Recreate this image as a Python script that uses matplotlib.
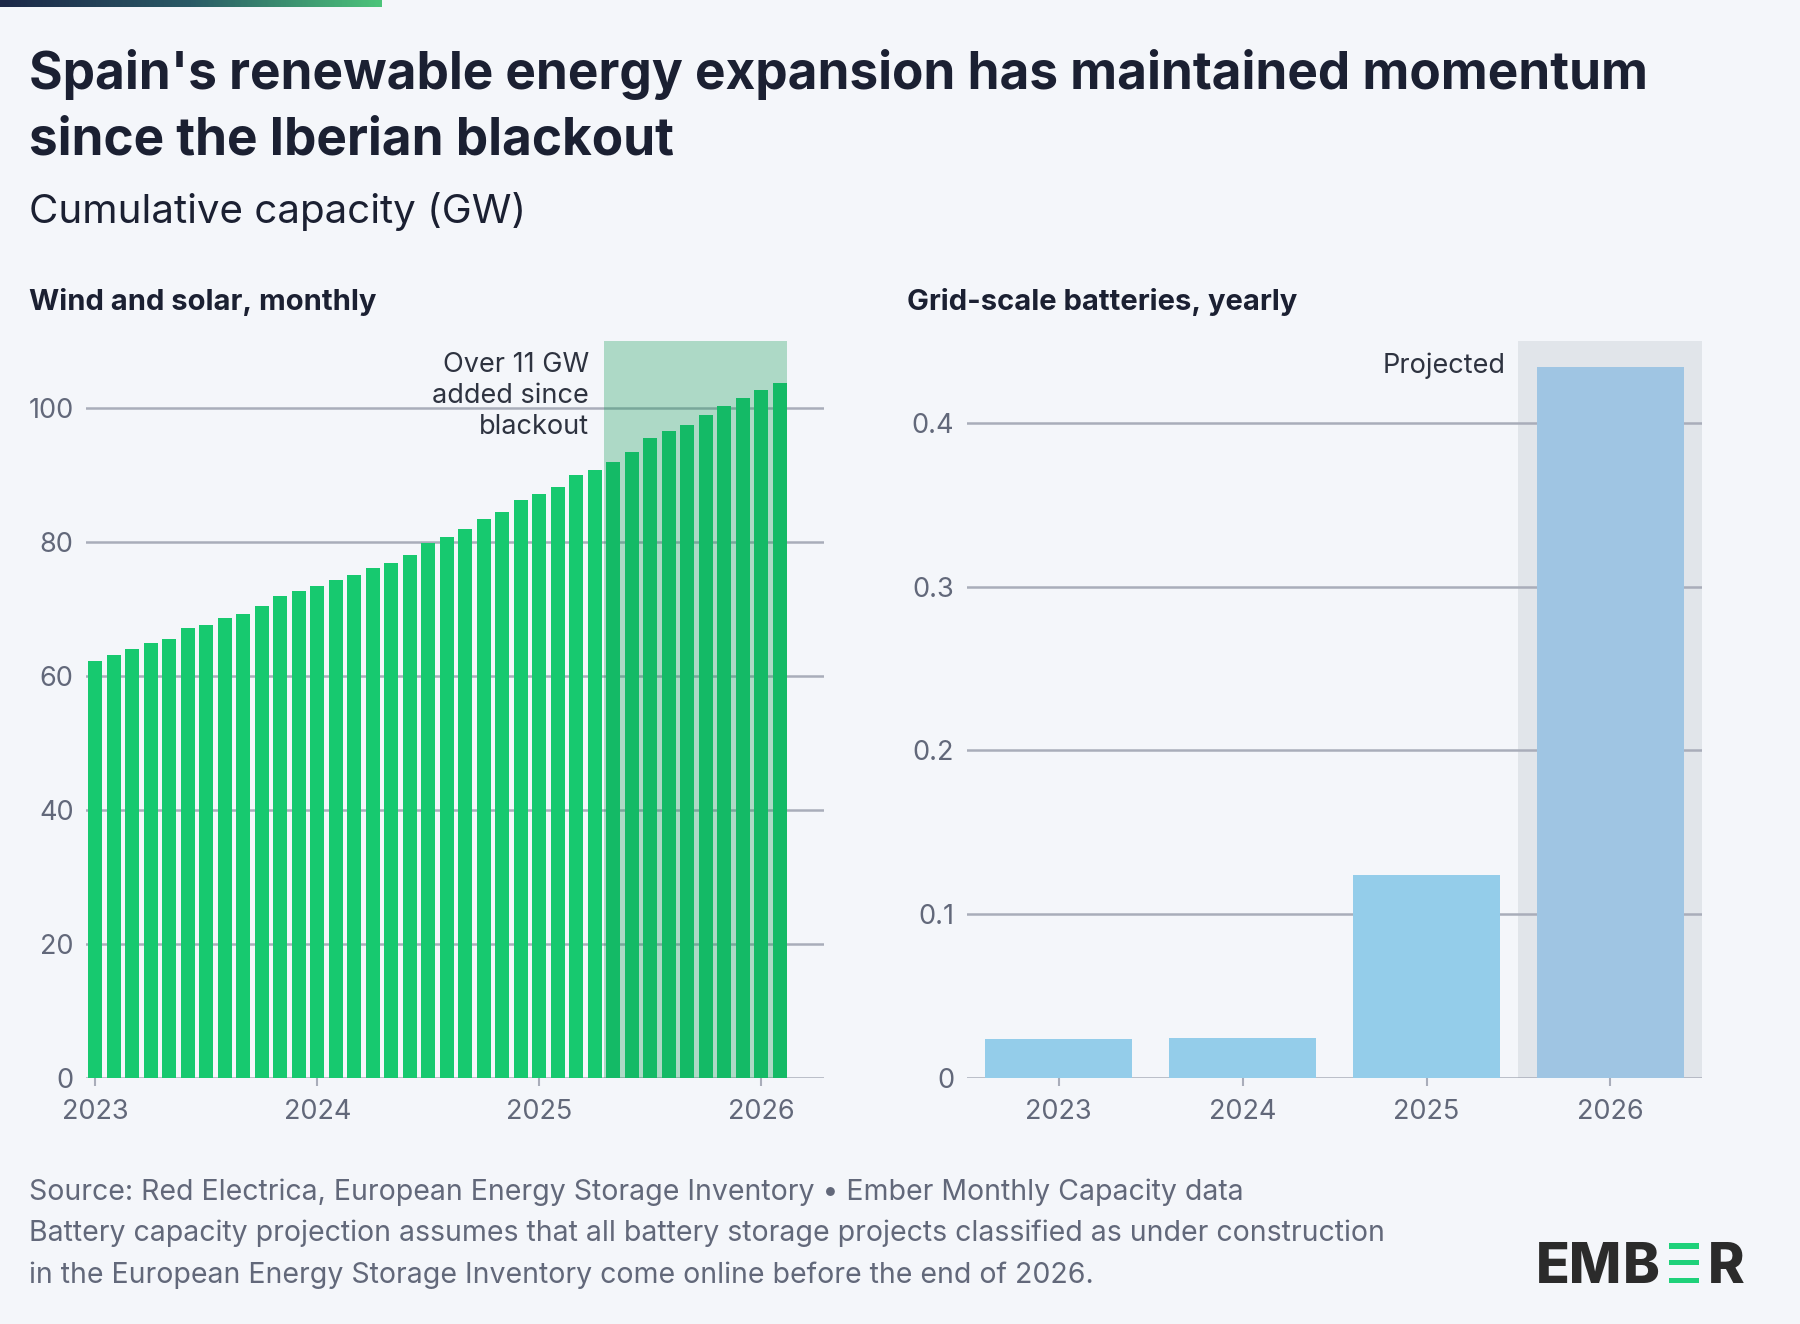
import numpy as np
import pandas as pd
import matplotlib
matplotlib.use("Agg")
import matplotlib.pyplot as plt
from matplotlib.colors import LinearSegmentedColormap

# wind + solar cumulative capacity, GW, Jan 2023 .. Feb 2026
wind_solar = [62.2, 63.1, 64.1, 64.9, 65.6, 67.1, 67.6, 68.6, 69.3, 70.4, 72.0, 72.7,
              73.4, 74.3, 75.1, 76.2, 76.9, 78.0, 79.9, 80.7, 82.0, 83.4, 84.5, 86.3,
              87.2, 88.2, 90.0, 90.7, 92.0, 93.5, 95.6, 96.6, 97.5, 99.0, 100.3, 101.5,
              102.7, 103.8]
months = pd.date_range("2023-01-01", periods=len(wind_solar), freq="MS")
blackout_month = "2025-05"

battery_years = ["2023", "2024", "2025", "2026"]
battery_gw = [0.024, 0.0245, 0.124, 0.434]
projected_year = "2026"

left_yticks = [0, 20, 40, 60, 80, 100]
right_yticks = [0, 0.1, 0.2, 0.3, 0.4]

BG = "#f4f6fa"
DARK = "#1b2032"
GRAY = "#62687a"
GRID = "#a9adba"
GREEN = "#17c96f"
BLUE = "#94cdea"
BLUE_PROJ = "#9fc5e3"

plt.rcParams["font.family"] = ["Inter", "DejaVu Sans"]

W, H = 1800, 1324
fig = plt.figure(figsize=(W / 100, H / 100), dpi=100, facecolor=BG)

# accent strip top left
strip = fig.add_axes([0, 1 - 7 / H, 382 / W, 7 / H])
cmap = LinearSegmentedColormap.from_list("acc", ["#1c2848", "#2a5a66", "#4cc47a"])
strip.imshow(np.linspace(0, 1, 200)[None, :], aspect="auto", cmap=cmap)
strip.axis("off")

fig.text(0.016, 0.9328, "Spain's renewable energy expansion has maintained momentum",
         fontsize=37, fontweight="bold", color=DARK, va="baseline")
fig.text(0.016, 0.883, "since the Iberian blackout",
         fontsize=37, fontweight="bold", color=DARK, va="baseline")
fig.text(0.016, 0.8316, "Cumulative capacity (GW)", fontsize=29, color=DARK, va="baseline")

fig.text(0.016, 0.766, "Wind and solar, monthly", fontsize=21, fontweight="bold",
         color=DARK, va="baseline")
fig.text(0.504, 0.766, "Grid-scale batteries, yearly", fontsize=21, fontweight="bold",
         color=DARK, va="baseline")


def style(ax, yticks):
    ax.set_facecolor(BG)
    for s in ax.spines.values():
        s.set_visible(False)
    ax.set_yticks(yticks)
    ax.set_yticklabels([f"{v:g}" for v in yticks])
    ax.tick_params(axis="y", length=0, pad=9, labelsize=19.5, labelcolor=GRAY)
    ax.tick_params(axis="x", length=6, width=1.5, color=GRID, pad=9,
                   labelsize=19.5, labelcolor=GRAY)
    for v in yticks:
        ax.axhline(v, color=GRID, lw=1.8, zorder=1)


# left: wind and solar
ax1 = fig.add_axes([0.0478, 0.1858, 0.41, 0.5566])
x = np.arange(len(wind_solar))
ax1.bar(x, wind_solar, width=0.75, color=GREEN, zorder=2)
ax1.set_xlim(-0.5, 39.4)
ax1.set_ylim(0, 110)
style(ax1, left_yticks)
jan = [i for i, m in enumerate(months) if m.month == 1]
ax1.set_xticks(jan)
ax1.set_xticklabels([str(months[i].year) for i in jan])
b0 = list(months.strftime("%Y-%m")).index(blackout_month)
ax1.axvspan(b0 - 0.5, len(wind_solar) - 1 + 0.4, color="#0f9a55", alpha=0.31,
            lw=0, zorder=3)
ax1.text(b0 - 1.3, 108.3, "Over 11 GW\nadded since\nblackout", ha="right", va="top",
         multialignment="right", fontsize=19.5, color="#2e3340", linespacing=1.25)

# right: batteries
ax2 = fig.add_axes([0.537, 0.1858, 0.4088, 0.5566])
xb = np.arange(len(battery_years))
cols = [BLUE_PROJ if y == projected_year else BLUE for y in battery_years]
ax2.bar(xb, battery_gw, width=0.8, color=cols, zorder=3)
ax2.set_xlim(-0.5, 3.5)
ax2.set_ylim(0, 0.45)
style(ax2, right_yticks)
ax2.set_xticks(xb)
ax2.set_xticklabels(battery_years)
p = battery_years.index(projected_year)
ax2.axvspan(p - 0.5, p + 0.5, color="#e1e5ea", lw=0, zorder=0.5)
ax2.text(p - 0.57, 0.435, "Projected", ha="right", va="center", fontsize=19.5,
         color="#2e3340")

# footer
fig.text(0.016, 0.0937, "Source: Red Electrica, European Energy Storage Inventory \u2022 "
         "Ember Monthly Capacity data", fontsize=20.5, color=GRAY, va="baseline")
fig.text(0.016, 0.0627, "Battery capacity projection assumes that all battery storage "
         "projects classified as under construction", fontsize=20.5, color=GRAY,
         va="baseline")
fig.text(0.016, 0.031, "in the European Energy Storage Inventory come online before "
         "the end of 2026.", fontsize=20.5, color=GRAY, va="baseline")

# logo
base = 1 - 1283 / H
fig.text(1536 / W, base, "EM", fontsize=40, fontweight="heavy", color="#2b2b2b",
         va="baseline")
fig.text(1660 / W, base, "B", fontsize=40, fontweight="heavy", color="#2b2b2b",
         va="baseline", ha="right")
fig.text(1708 / W, base, "R", fontsize=40, fontweight="heavy", color="#2b2b2b",
         va="baseline")
for top, bot in [(1243, 1248.5), (1259.5, 1265), (1277.5, 1283)]:
    fig.patches.append(plt.Rectangle((1669 / W, 1 - bot / H), 30 / W, (bot - top) / H,
                                     transform=fig.transFigure, color="#1fd17a", lw=0))

fig.savefig("out.png", dpi=100, facecolor=BG)
